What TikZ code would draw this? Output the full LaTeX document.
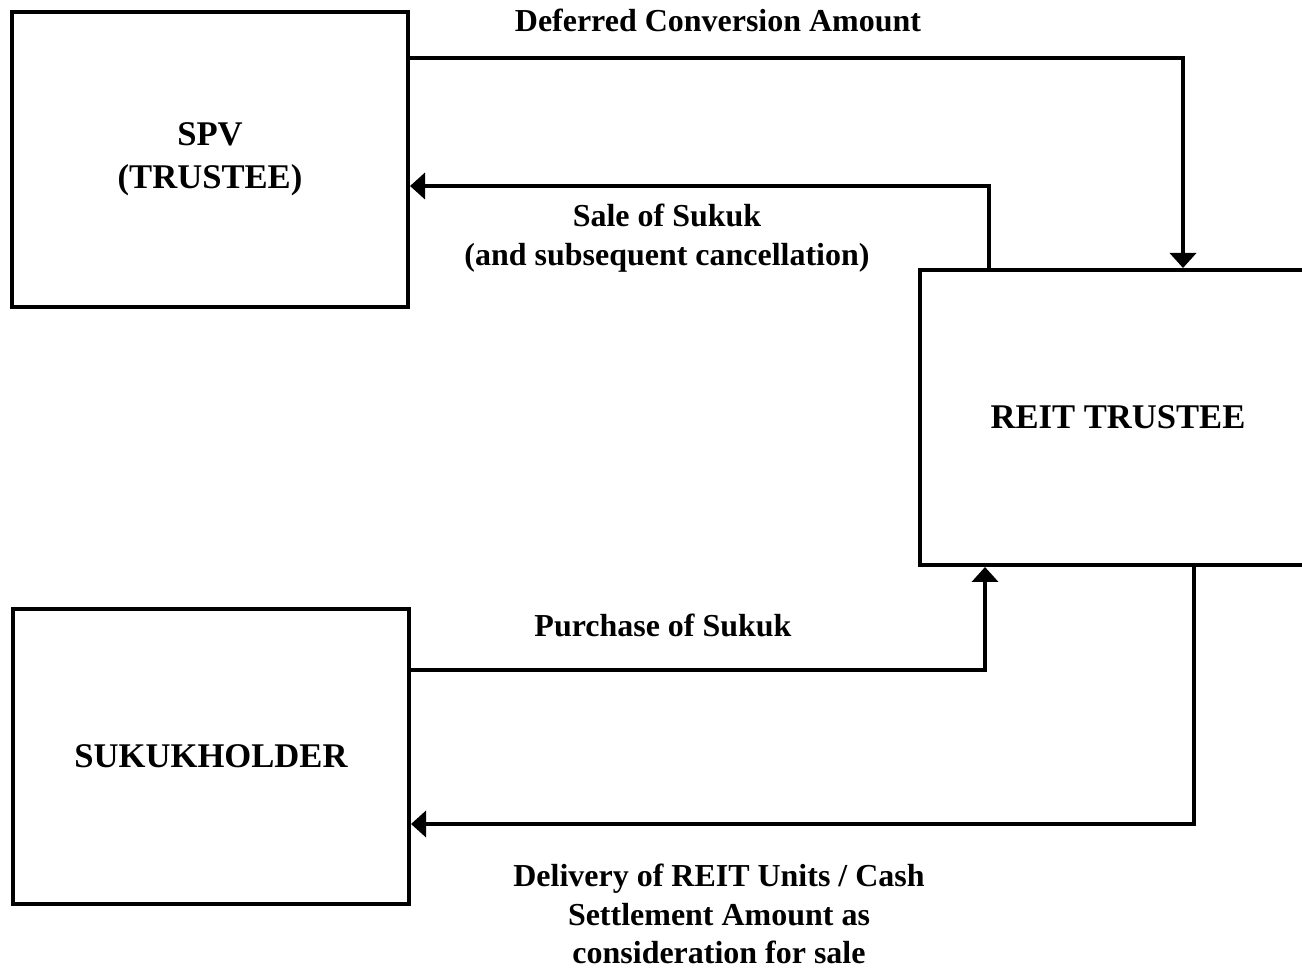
\documentclass[tikz,border=0pt]{standalone}
\usepackage{fontspec}
\setmainfont{Liberation Serif}
\usetikzlibrary{arrows.meta,calc}

\tikzset{
  party/.style={draw,line width=0.08cm,minimum width=396*0.02cm,minimum height=295*0.02cm,
    inner sep=0pt,align=center,font=\fontsize{19.7}{24.4}\selectfont\bfseries},
  flow/.style={line width=0.08cm,-{Triangle[length=0.3cm,width=0.52cm]}},
  flowlabel/.style={align=center,inner sep=0pt,font=\fontsize{18.2}{21.9}\selectfont\bfseries}
}

\begin{document}
\begin{tikzpicture}[x=0.02cm,y=0.02cm,>=latex]
			\clip (0,0) rectangle (1302,-972);

			\node[party] (spv) at (210,-159.5) {SPV\\(TRUSTEE)};
			\node[party] (reit) at (1118,-417.5) {REIT TRUSTEE};
			\node[party] (holder) at (211,-756.5) {SUKUKHOLDER};

			% flows between the parties
			\draw[flow] ($(spv.north east)+(0,-48)$) -| ($(reit.north west)+(265,0)$);
			\draw[flow] ($(reit.north west)+(71,0)$) |- ($(spv.north east)+(0,-176)$);
			\draw[flow] ($(holder.north east)+(0,-63)$) -| ($(reit.south west)+(67,0)$);
			\draw[flow] ($(reit.south west)+(276,0)$) |- ($(holder.north east)+(0,-217)$);

			\node[flowlabel] (deferred) at (718,-20) {Deferred Conversion Amount};
			\node[flowlabel] (sale) at (667,-238) {Sale of Sukuk\\(and subsequent cancellation)};
			\node[flowlabel] (purchase) at (663,-625) {Purchase of Sukuk};
			\node[flowlabel] (delivery) at (719,-914) {Delivery of REIT Units / Cash\\Settlement Amount as\\consideration for sale};
		\end{tikzpicture}
\end{document}
